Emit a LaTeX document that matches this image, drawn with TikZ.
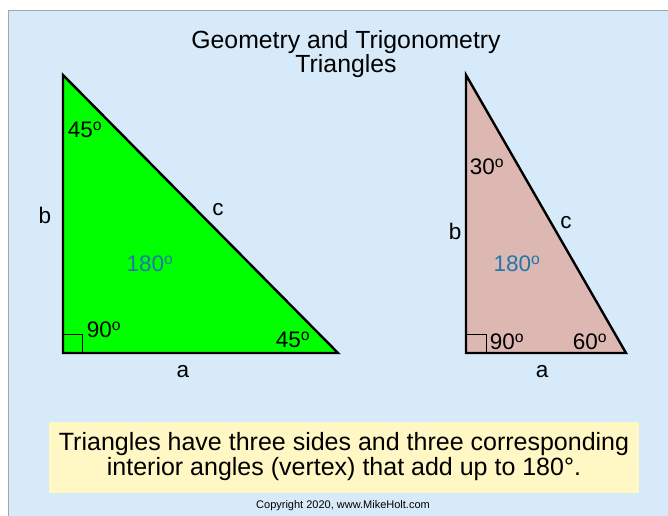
\documentclass[tikz,border=0pt]{standalone}
\usepackage{fontspec}
\setmainfont{Liberation Sans}
\begin{document}
\begin{tikzpicture}[x=1pt,y=-1pt,
  tri/.style={draw=black,line width=2.4pt,line join=miter},
  rsq/.style={draw=black,line width=0.9pt},
  lbl/.style={inner sep=0pt,font=\fontsize{22.5}{24}\selectfont},
  blu/.style={lbl,text=tblue},
]
\definecolor{bgblue}{HTML}{D6EAF9}
\definecolor{tgreen}{HTML}{00FF00}
\definecolor{tpink}{HTML}{DDB8B3}
\definecolor{tblue}{HTML}{2277AA}
\definecolor{tyellow}{HTML}{FFF7C4}
\useasboundingbox (0,0) rectangle (668,515);
\fill[white] (0,0) rectangle (668,515);
\fill[bgblue] (8,10) rectangle (670,517);
\draw[gray!70,line width=1pt] (8,517) -- (8,10) -- (670,10);
% title
\node[inner sep=0pt,align=center,font=\fontsize{24.8}{24}\selectfont] (title) at (346,54) {Geometry and Trigonometry\\Triangles};
% green triangle
\coordinate (gA) at (63,75);
\coordinate (gB) at (63,353);
\coordinate (gC) at (338,353);
\fill[tgreen] (gA) -- (gB) -- (gC) -- cycle;
\draw[rsq] (63,334) rectangle (82,353);
\draw[tri] (gA) -- (gB) -- (gC) -- cycle;
\node[lbl] (g45a) at (85,130) {45\textsuperscript{o}};
\node[lbl] (gb) at (45,215) {b};
\node[lbl] (gc) at (218,210) {c};
\node[blu] (g180) at (150,264) {180\textsuperscript{o}};
\node[lbl] (g90) at (104,330) {90\textsuperscript{o}};
\node[lbl] (g45b) at (293,340) {45\textsuperscript{o}};
\node[lbl] (ga) at (183,372) {a};
% pink triangle
\coordinate (pA) at (466,75);
\coordinate (pB) at (466,353);
\coordinate (pC) at (626,353);
\fill[tpink] (pA) -- (pB) -- (pC) -- cycle;
\draw[rsq] (466,334) rectangle (486,353);
\draw[tri] (pA) -- (pB) -- (pC) -- cycle;
\node[lbl] (p30) at (487,167) {30\textsuperscript{o}};
\node[lbl] (pb) at (455,231) {b};
\node[lbl] (pc) at (566,223) {c};
\node[blu] (p180) at (517,264) {180\textsuperscript{o}};
\node[lbl] (p90) at (507,342) {90\textsuperscript{o}};
\node[lbl] (p60) at (590,342) {60\textsuperscript{o}};
\node[lbl] (pa) at (542,372) {a};
% note box
\fill[tyellow] (49,422) rectangle (639,493);
\node[inner sep=0pt,align=center,font=\fontsize{25}{25}\selectfont] (note) at (344,457) {Triangles have three sides and three corresponding\\interior angles (vertex) that add up to 180°.};
\node[inner sep=0pt,font=\fontsize{11}{12}\selectfont] (copy) at (343,506) {Copyright 2020, www.MikeHolt.com};
\end{tikzpicture}
\end{document}
